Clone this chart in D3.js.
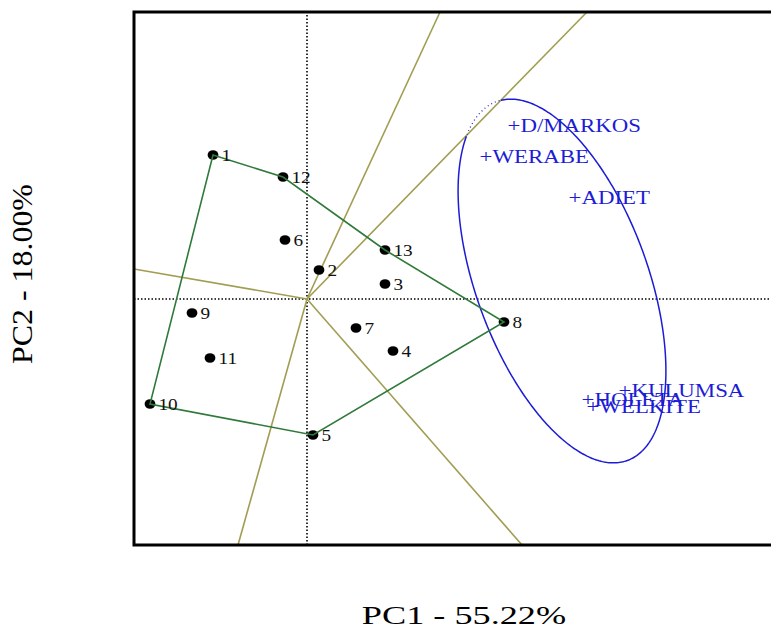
<!DOCTYPE html>
<html>
<head>
<meta charset="utf-8">
<script src="https://cdn.jsdelivr.net/npm/d3@7"></script>
<style>
  body { margin: 0; background: #fff; }
  text { font-family: "Liberation Serif", "Times New Roman", serif; }
</style>
</head>
<body>
<div id="chart"></div>
<script>
// genotypes (PC1, PC2 scores)
const genoNames = ["1", "2", "3", "4", "5", "6", "7", "8", "9", "10", "11", "12", "13"];
const genoPC1 = [-0.94, 0.12, 0.78, 0.86, 0.06, -0.22, 0.49, 1.97, -1.15, -1.57, -0.97, -0.24, 0.78];
const genoPC2 = [1.44, 0.29, 0.15, -0.52, -1.36, 0.59, -0.29, -0.23, -0.14, -1.05, -0.59, 1.22, 0.49];

// environments
const envNames = ["D/MARKOS", "WERABE", "ADIET", "KULUMSA", "HOLETA", "WELKITE"];
const envPC1 = [2.07, 1.79, 2.68, 3.18, 2.81, 2.86];
const envPC2 = [1.73, 1.42, 1.01, -0.92, -1.01, -1.08];

// convex hull of the genotypes (which-won-where polygon)
const hullOrder = ["1", "12", "13", "8", "5", "10"];

// sector rays from the origin, end points where they leave the plot
const rayEnds = [[1.33, 2.87], [2.80, 2.87], [-1.73, 0.30], [-0.69, -2.46], [2.15, -2.46]];

// mega-environment ellipse: centre, semi axes, angle (deg)
const ellipse = { cx: 2.55, cy: 0.18, a: 1.91, b: 0.86, angle: -70 };

const xLabel = "PC1 - 55.22%";
const yLabel = "PC2 - 18.00%";

////////////////////////////////////////////////////////////////////////////////////

const width = 771, height = 632;
const svg = d3.select("#chart").append("svg").attr("width", width).attr("height", height);

const x = d3.scaleLinear().domain([-1.73, 4.64]).range([134, 771]);
const y = d3.scaleLinear().domain([-2.46, 2.87]).range([545, 12]);

const olive = "#a19d52", green = "#2f7a3a", blue = "#1c1cd6";

const genos = genoNames.map((n, i) => ({ name: n, x: genoPC1[i], y: genoPC2[i] }));
const envs = envNames.map((n, i) => ({ name: n, x: envPC1[i], y: envPC2[i] }));

// dotted axes through origin
svg.append("line")
  .attr("x1", x.range()[0]).attr("x2", x.range()[1])
  .attr("y1", y(0)).attr("y2", y(0))
  .style("stroke", "#000").style("stroke-width", 1.6).style("stroke-dasharray", "1.5,2");
svg.append("line")
  .attr("x1", x(0)).attr("x2", x(0))
  .attr("y1", y.range()[0]).attr("y2", y.range()[1])
  .style("stroke", "#000").style("stroke-width", 1.6).style("stroke-dasharray", "1.5,2");

// rays
svg.append("g").selectAll("line").data(rayEnds).enter().append("line")
  .attr("x1", x(0)).attr("y1", y(0))
  .attr("x2", (d) => x(d[0])).attr("y2", (d) => y(d[1]))
  .style("stroke", olive).style("stroke-width", 1.6);

// ellipse, the part beyond the second ray is dotted
const th = (ellipse.angle * Math.PI) / 180;
const ray = rayEnds[1];
const ellPts = d3.range(0, 361, 1).map((t) => {
  const r = (t * Math.PI) / 180;
  const ex = ellipse.a * Math.cos(r), ey = ellipse.b * Math.sin(r);
  const px = ellipse.cx + ex * Math.cos(th) - ey * Math.sin(th);
  const py = ellipse.cy + ex * Math.sin(th) + ey * Math.cos(th);
  const side = ray[0] * py - ray[1] * px;
  return { x: px, y: py, out: side > 0 };
});
svg.append("path")
  .attr("d", d3.line().x((d) => x(d.x)).y((d) => y(d.y)).defined((d) => !d.out)(ellPts))
  .style("fill", "none").style("stroke", blue).style("stroke-width", 1.5);
svg.append("path")
  .attr("d", d3.line().x((d) => x(d.x)).y((d) => y(d.y)).defined((d) => d.out)(ellPts))
  .style("fill", "none").style("stroke", blue).style("stroke-width", 1.2).style("stroke-dasharray", "1,3");

// genotype points
svg.append("g").selectAll("ellipse").data(genos).enter().append("ellipse")
  .attr("cx", (d) => x(d.x)).attr("cy", (d) => y(d.y))
  .attr("rx", 5.4).attr("ry", 4.8)
  .style("fill", "#000");

// polygon
const hull = hullOrder.map((n) => genos.find((g) => g.name === n));
svg.append("path")
  .attr("d", d3.line().x((d) => x(d.x)).y((d) => y(d.y)).curve(d3.curveLinearClosed)(hull))
  .style("fill", "none").style("stroke", green).style("stroke-width", 1.6);

svg.append("g").selectAll("text").data(genos).enter().append("text")
  .attr("transform", (d) => `translate(${x(d.x) + 8.5},${y(d.y) + 6}) scale(1.1,1)`)
  .style("font-size", "17.5px").style("fill", "#111")
  .text((d) => d.name);

// environments (text is stretched wide like the original)
svg.append("g").selectAll("text").data(envs).enter().append("text")
  .attr("transform", (d) => `translate(${x(d.x) - 6.5},${y(d.y) + 5.5}) scale(1.27,1)`)
  .style("font-size", "18px").style("fill", blue)
  .text((d) => "+" + d.name);

// frame (right side runs off the picture)
svg.append("path")
  .attr("d", `M${x.range()[1] + 5},${y.range()[1]}H${x.range()[0]}V${y.range()[0]}H${x.range()[1] + 5}`)
  .style("fill", "none").style("stroke", "#000").style("stroke-width", 3);

// axis titles
svg.append("text")
  .attr("transform", "translate(464,624) scale(1.45,1)")
  .attr("text-anchor", "middle")
  .style("font-size", "25px")
  .text(xLabel);
svg.append("text")
  .attr("transform", "translate(32,274) rotate(-90) scale(1.1,1)")
  .attr("text-anchor", "middle")
  .style("font-size", "29px")
  .text(yLabel);
</script>
</body>
</html>
